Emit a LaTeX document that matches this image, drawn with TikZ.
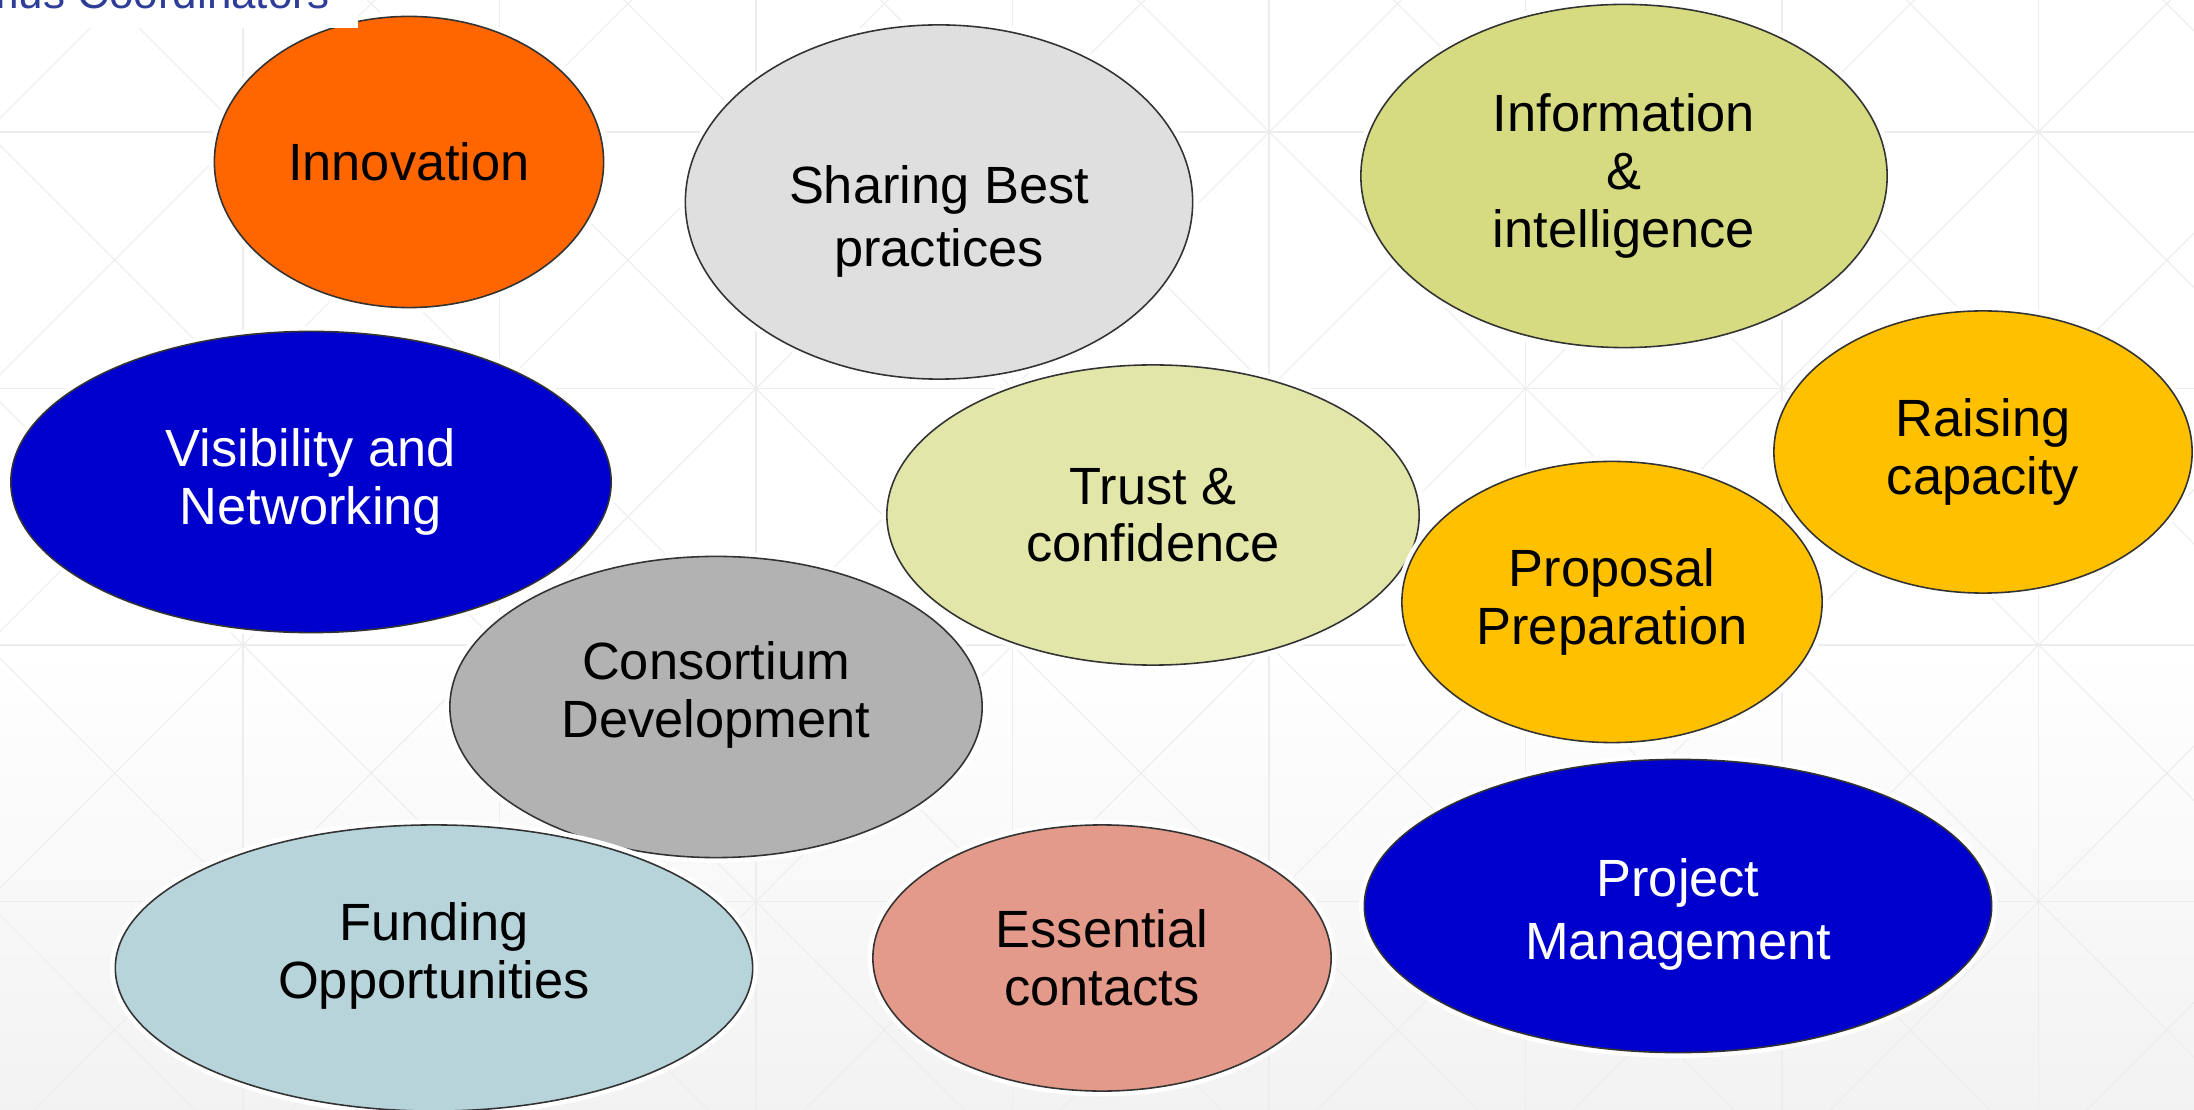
\documentclass[tikz,border=0pt]{standalone}
\usepackage{fontspec}
\setmainfont{Liberation Sans}
\usetikzlibrary{shapes.geometric}
\definecolor{innoc}{HTML}{FF6600}
\definecolor{sharec}{HTML}{DFDFDF}
\definecolor{infoc}{HTML}{D6DA80}
\definecolor{trustc}{HTML}{E2E7A9}
\definecolor{amberc}{HTML}{FFC000}
\definecolor{bluec}{HTML}{0000CC}
\definecolor{consc}{HTML}{B2B2B2}
\definecolor{fundc}{HTML}{B7D4DA}
\definecolor{essc}{HTML}{E39A8A}
\definecolor{titlec}{HTML}{2E3D98}
\begin{document}
\begin{tikzpicture}[x=0.01cm, y=-0.01cm,
	bub/.style={ellipse, draw=black!80, line width=0.45pt, inner sep=0pt, align=center, font=\fontsize{14.9}{16.4}\selectfont, preaction={draw=white, line width=3pt}},
	txt/.style={align=center, font=\fontsize{14.9}{16.4}\selectfont},
	widetxt/.style={align=center, font=\fontsize{14.9}{17.9}\selectfont},
	gridline/.style={draw=black!7, line width=0.3pt}]
			 \useasboundingbox (0,0) rectangle (2194,1110);
			 \fill[white] (0,0) rectangle (2194,646);
			 \shade[top color=white, bottom color=black!5] (0,646) rectangle (2194,1110);
			 \begin{scope}
			 \clip (0,0) rectangle (2194,1110);
			 \foreach \i in {0,...,9}
			 	\draw[gridline] (-13.5+256.5*\i,-124.5) -- ++(0,1300);
			 \foreach \j in {0,...,5}
			 	\draw[gridline] (-13.5,-124.5+256.5*\j) -- ++(2300,0);
			 \foreach \i in {0,...,8}
			 	\foreach \j in {0,...,4} {
			 		\draw[gridline] (-13.5+256.5*\i,-124.5+256.5*\j) -- ++(256.5,256.5);
			 		\draw[gridline] (243+256.5*\i,-124.5+256.5*\j) -- ++(-256.5,256.5);
			 	}
			 \end{scope}
			 \node[bub,fill=innoc,minimum width=3.89cm,minimum height=2.91cm] (inno)at(409,162) {Innovation};
			 \node[bub,fill=sharec,minimum width=5.07cm,minimum height=3.54cm,label={[widetxt,yshift=-0.19cm]center:{Sharing Best\\practices}}] (share)at(939,202) {};
			 \node[bub,fill=infoc,minimum width=5.26cm,minimum height=3.43cm] (info)at(1624,176) {Information\\\&\\intelligence};
			 \node[bub,fill=amberc,minimum width=4.18cm,minimum height=2.82cm] (raise)at(1983,452) {Raising\\capacity};
			 \node[bub,fill=bluec,text=white,minimum width=6.00cm,minimum height=3.01cm] (vis)at(311,482) {Visibility and\\Networking};
			 \node[bub,fill=trustc,minimum width=5.32cm,minimum height=3.00cm] (trust)at(1153,515) {Trust \&\\confidence};
			 \node[bub,fill=amberc,minimum width=4.20cm,minimum height=2.81cm] (prop)at(1612,602) {Proposal\\Preparation};
			 \node[bub,fill=consc,minimum width=5.32cm,minimum height=3.01cm,label={[txt,yshift=0.12cm]center:{Consortium\\Development}}] (cons)at(716,707) {};
			 \node[bub,fill=fundc,minimum width=6.37cm,minimum height=2.86cm,label={[txt,yshift=0.12cm]center:{Funding\\Opportunities}}] (fund)at(434,968) {};
			 \node[bub,fill=essc,minimum width=4.58cm,minimum height=2.66cm] (ess)at(1102,958) {Essential\\contacts};
			 \node[bub,fill=bluec,minimum width=6.27cm,minimum height=2.93cm,label={[widetxt,text=white,yshift=-0.08cm]center:{Project\\Management}}] (proj)at(1678,906) {};
			 \fill[white] (0,0) rectangle (358,28);
			 \begin{scope}
			 \clip (0,0) rectangle (2194,1110);
			 \node[anchor=base east,text=titlec,inner sep=0pt,font=\fontsize{12.5}{15}\selectfont] (title)at(330,9) {mus Coordinators};
			 \end{scope}
		\end{tikzpicture}
\end{document}
